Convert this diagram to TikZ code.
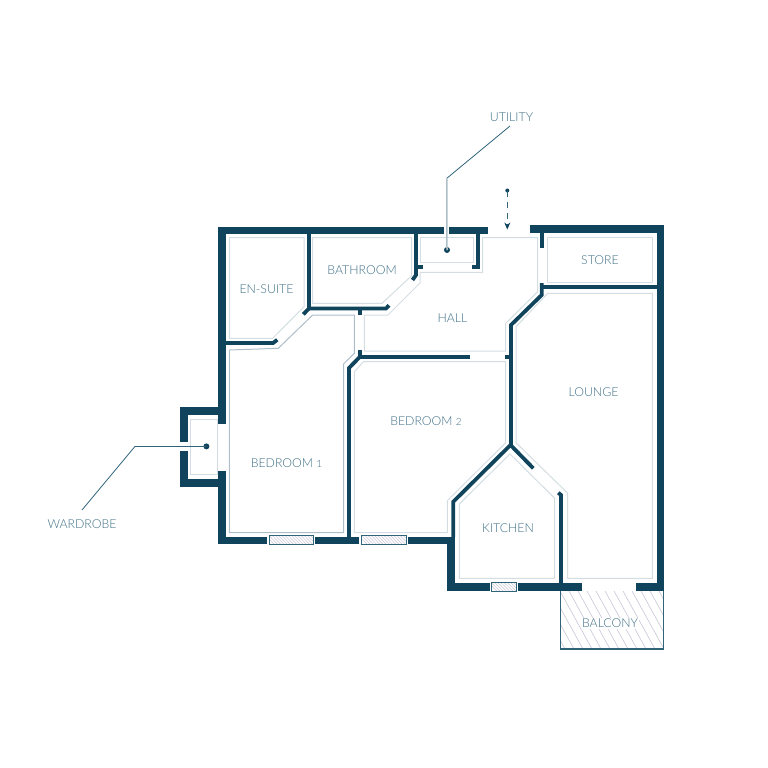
\documentclass[tikz,border=0pt]{standalone}
\usepackage{fontspec}
\setmainfont{Lato}[UprightFont=* Light]
\usetikzlibrary{arrows.meta}
\definecolor{wall}{HTML}{0F445C}
\definecolor{inner}{HTML}{D3DDE2}
\definecolor{innerd}{HTML}{AEBEC8}
\definecolor{txt}{HTML}{3D6E85}
\definecolor{edge}{HTML}{2F6479}
\definecolor{hatch}{HTML}{C9C6D6}
\newcommand{\osd}[1]{{\fontsize{10}{10}\selectfont #1}}
\tikzset{
 thick wall/.style={draw=wall,line width=7.5,line cap=butt,line join=miter},
 thin wall/.style={draw=wall,line width=3.8,line cap=butt,line join=miter},
 room/.style={draw=inner,line width=1},
 roomd/.style={draw=innerd,line width=1},
 label/.style={text=txt,font=\fontsize{12.3}{12.3}\selectfont,inner sep=0},
 leader/.style={draw=edge,line width=0.8},
 pin/.style={circle,fill=wall,inner sep=0,minimum size=6},
}
\begin{document}
\begin{tikzpicture}[x=1pt,y=-1pt]
\useasboundingbox (0,0) rectangle (768,768);
% rooms
\draw[room] (229.3,237.7)--(304,237.7)--(304,306.7)--(272.7,338.3)--(229.3,338.3)--cycle;
\draw[room] (312.7,237.7)--(411.7,237.7)--(411.7,275.7)--(382,303.3)--(312.7,303.3)--cycle;
\draw[roomd] (229.3,532.7)--(229.3,350)--(278.3,348.3)--(312.7,315)--(354.3,315)--(354.3,353.3)--(343.5,364)--(343.5,532.7)--cycle;
\draw[room] (364.3,315)--(388,315)--(420,283)--(420,272.3)--(482.7,272.3)--(482.7,237.7)--(537.7,237.7)--(537.7,291.7)--(505.7,323.3)--(505.7,351)--(364.3,351)--cycle;
\draw[room] (420.7,237.7)--(473.3,237.7)--(473.3,262.7)--(420.7,262.7)--cycle;
\draw[room] (547.7,237.7)--(652.3,237.7)--(652.3,282.3)--(547.7,282.3)--cycle;
\draw[room] (547.7,293.3)--(652.3,293.3)--(652.3,578.3)--(567.7,578.3)--(567.7,493.3)--(516,442.7)--(516,326.7)--cycle;
\draw[room] (510,454)--(554.7,498.3)--(554.7,578.3)--(459.3,578.3)--(459.3,504)--cycle;
\draw[room] (363.3,361.7)--(505.7,361.7)--(505.7,442.7)--(447.3,500.7)--(447.3,532.7)--(354.3,532.7)--(354.3,372)--cycle;
\draw[room] (190.7,419.3)--(217.7,419.3)--(217.7,474)--(190.7,474)--cycle;
% balcony
\begin{scope}
\clip (560.7,591) rectangle (663.3,649);
\foreach \k in {-6,...,14}{
 \draw[hatch,line width=0.6] ({560+\k*9},591)--({560+\k*9+32},649);
}
\end{scope}
\draw[draw=edge,line width=1.3] (560.7,591)--(560.7,649)--(663.3,649)--(663.3,591);
% thick walls
\draw[thick wall] (444,230.5)--(222,230.5)--(222,424);
\draw[thick wall] (449,230.5)--(487.7,230.5);
\draw[thick wall] (530,229)--(660.7,229)--(660.7,587)--(636,587);
\draw[thick wall] (222,411)--(184,411)--(184,441.7);
\draw[thick wall] (184,450.7)--(184,483)--(222,483);
\draw[thick wall] (222,470.7)--(222,540.3)--(267,540.3);
\draw[thick wall] (315,540.3)--(359,540.3);
\draw[thick wall] (407.7,540.3)--(451,540.3);
\draw[thick wall] (451,537)--(451,587)--(490,587);
\draw[thick wall] (517.7,587)--(581.7,587);
% thin walls
\draw[thin wall] (309,234)--(309,308.5);
\draw[thin wall] (309,308.5)--(303.3,314.3);
\draw[thin wall] (309,308.5)--(386,308.5)--(389,305.3);
\draw[thin wall] (226,343)--(273,343)--(277.3,339.8);
\draw[thin wall] (360,310)--(360,315);
\draw[thin wall] (416,234)--(416,275)--(412.5,280);
\draw[thin wall] (416,267)--(422.7,267);
\draw[thin wall] (477.7,234)--(477.7,267)--(472.3,267);
\draw[thin wall] (541.7,233)--(541.7,247.7);
\draw[thin wall] (541.7,283)--(541.7,295)--(511,325)--(511,445);
\draw[thin wall] (541.7,287.3)--(657,287.3);
\draw[thin wall] (360,350)--(360,356.7);
\draw[thin wall] (360,356.7)--(470,356.7);
\draw[thin wall] (360,356.7)--(349,368)--(349,537);
\draw[thin wall] (505,356.7)--(511,356.7);
\draw[thin wall] (533.3,468.3)--(510.5,445)--(453.3,501.7)--(453.3,537);
\draw[thin wall] (558.3,492.7)--(561,495)--(561,583);
% windows
\foreach \a/\b/\c/\d in {269/313/535.5/544.8,361.7/406/535.5/544.8,491/516.7/582.3/591}{
 \begin{scope}
 \clip (\a,\c) rectangle (\b,\d);
 \fill[white] (\a,\c) rectangle (\b,\d);
 \foreach \k in {-1,...,16}{
  \draw[hatch,line width=0.5] ({\a+\k*3.2},\c)--({\a+\k*3.2+9},\d);
 }
 \end{scope}
 \draw[draw=edge,line width=1] (\a,\c) rectangle (\b,\d);
}
% labels
\node[label] (ensuite) at (266.5,289.5) {EN-SUITE};
\node[label] (bathroom) at (362,270.5) {BATHROOM};
\node[label] (hall) at (452.5,318) {HALL};
\node[label] (store) at (600,260) {STORE};
\node[label] (lounge) at (593.5,392) {LOUNGE};
\node[label] (bed2) at (426,421) {BEDROOM \osd{2}};
\node[label] (bed1) at (286.5,463) {BEDROOM \osd{1}};
\node[label] (kitchen) at (508,528) {KITCHEN};
\node[label,fill=white,inner sep=1] (balcony) at (610,623.5) {BALCONY};
\node[label] (utility) at (511.5,117) {UTILITY};
\node[label] (wardrobe) at (82,524) {WARDROBE};
% leaders
\coordinate (ub) at (510,126);
\coordinate (uk) at (446.8,178.3);
\node[pin] (updot) at (447,250) {};
\draw[leader] (ub)--(uk);
\draw[draw=innerd,line width=1.5] (uk)--(updot.center);
\coordinate (wb) at (82,510);
\coordinate (wk) at (135,446.4);
\node[pin] (wdot) at (206.4,446.4) {};
\draw[leader] (wb)--(wk)--(wdot.center);
\node[circle,fill=wall,inner sep=0,minimum size=4] (edot) at (507.3,190.5) {};
\coordinate (eend) at (507.3,229.5);
\draw[draw=edge,line width=0.8,dash pattern=on 6 off 5,-{Stealth[length=7,width=6,color=wall]}] (edot.center)--(eend);
\end{tikzpicture}
\end{document}
